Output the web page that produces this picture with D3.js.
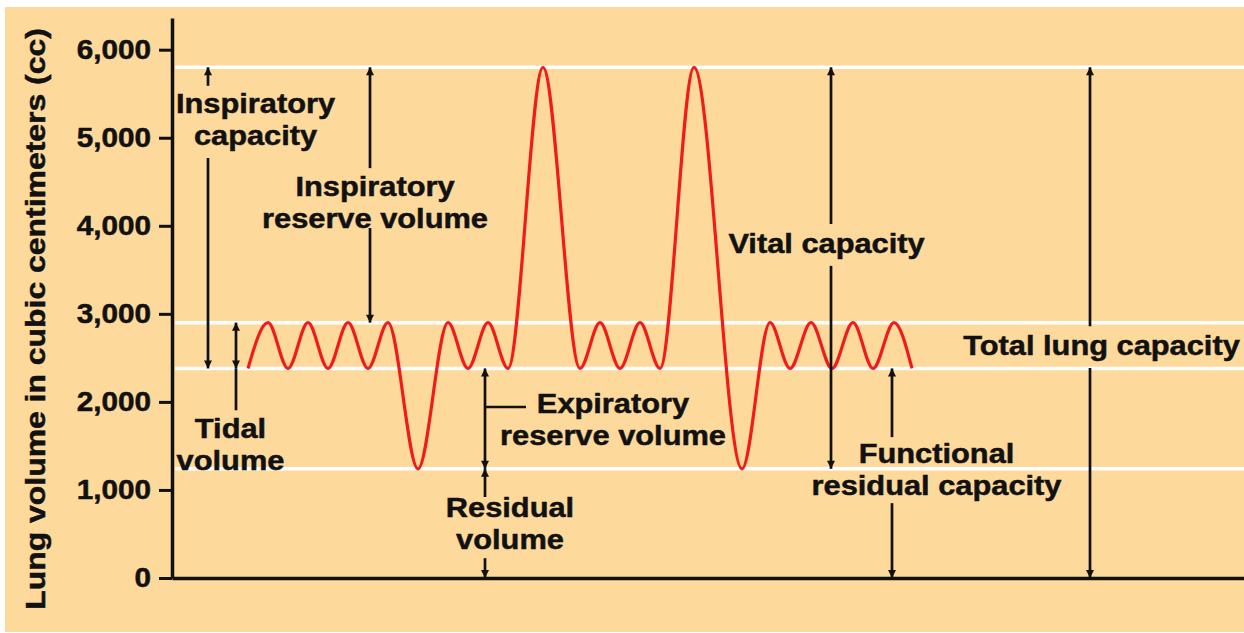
<!DOCTYPE html>
<html lang="en">
<head>
  <meta charset="utf-8">
  <title>Lung volumes</title>
  <script src="https://d3js.org/d3.v7.min.js"></script>
  <style>
    body { margin: 0; background: #fff; }
    text { font-family: "Liberation Sans", Arial, sans-serif; font-weight: bold; fill: #111; stroke: #111; stroke-width: 0.5px; }
  </style>
</head>
<body>
<script>
  // breathing trace: time (arbitrary units) and volume (cc) at each turning point
  var breathTime   = [7.6, 9.6, 11.6, 13.6, 15.6, 17.6, 19.6, 21.6, 24.6, 27.6, 29.6, 31.6, 33.6,
                      37.1, 40.8, 42.8, 44.8, 46.8, 48.8, 52.2, 57.0, 59.8, 61.8, 63.9, 66.0,
                      68.1, 70.1, 72.2, 74.0];
  var breathVolume = [2380, 2900, 2380, 2900, 2380, 2900, 2380, 2900, 1240, 2900, 2380, 2900, 2380,
                      5800, 2380, 2900, 2380, 2900, 2380, 5800, 1240, 2900, 2380, 2900, 2380,
                      2900, 2380, 2900, 2380];

  // reference levels (white lines)
  var levels = [5800, 2900, 2380, 1240];

  // y tick labels
  var yTicks = [0, 1000, 2000, 3000, 4000, 5000, 6000];

  // arrows: time position, segments [from, to, head at from, head at to]
  var arrows = [
    {t: 3.6,  segs: [[5800, 5590, true, false], [4770, 2380, false, true]]},   // inspiratory capacity
    {t: 6.4,  segs: [[2900, 2380, true, true], [2380, 1905, false, false]]},   // tidal volume
    {t: 19.8, segs: [[5800, 4655, true, false], [3975, 2900, false, true]]},   // IRV
    {t: 31.3, segs: [[2380, 1240, true, true], [1240, 920, true, false], [225, 0, false, true]]}, // ERV + RV
    {t: 65.9, segs: [[5800, 4020, true, false], [3545, 1240, false, true]]},   // vital capacity
    {t: 72.0, segs: [[2380, 1600, true, false], [850, 0, false, true]]},       // FRC
    {t: 91.8, segs: [[5800, 2860, true, false], [2385, 0, false, true]]}       // TLC
  ];
  var ervTick = {t0: 31.3, t1: 35.4, v: 1942};

  // labels: centre time, baseline volume of first line, lines
  var labels = [
    {t: 8.35,  v: 5281, lines: ["Inspiratory", "capacity"]},
    {t: 20.3,  v: 4338, lines: ["Inspiratory", "reserve volume"]},
    {t: 5.85,  v: 1590, lines: ["Tidal", "volume"]},
    {t: 44.1,  v: 1874, lines: ["Expiratory", "reserve volume"]},
    {t: 33.8,  v: 693,  lines: ["Residual", "volume"]},
    {t: 65.45, v: 3691, lines: ["Vital capacity"]},
    {t: 76.45, v: 1306, lines: ["Functional", "residual capacity"]},
    {t: 92.95, v: 2533, lines: ["Total lung capacity"]}
  ];

  var width = 1244, height = 633;
  var stretch = 1.1;

  var svg = d3.select("body").append("svg")
      .attr("width", width)
      .attr("height", height);

  svg.append("rect")
      .attr("x", 5).attr("y", 7)
      .attr("width", width - 5).attr("height", height - 8)
      .attr("fill", "#fdd99b");

  var defs = svg.append("defs");
  defs.append("marker")
      .attr("id", "head")
      .attr("viewBox", "0 0 10 10")
      .attr("refX", 10).attr("refY", 5)
      .attr("markerWidth", 12).attr("markerHeight", 8)
      .attr("markerUnits", "userSpaceOnUse")
      .attr("orient", "auto-start-reverse")
      .append("path")
      .attr("d", "M0,0 L10,5 L0,10 z")
      .attr("fill", "#111");

  var x = d3.scaleLinear().domain([0, 107.2]).range([172, 1244]);
  var y = d3.scaleLinear().domain([0, 6360]).range([578, 18]);

  // white level lines
  svg.selectAll("line.level")
     .data(levels)
     .enter()
       .append("line")
       .attr("class", "level")
       .attr("x1", x(0.3)).attr("x2", width)
       .attr("y1", function(d) { return y(d); })
       .attr("y2", function(d) { return y(d); })
       .attr("stroke", "#fff")
       .attr("stroke-width", 3.5);

  // breathing trace
  var trace = breathTime.map(function(t, i) { return [t, breathVolume[i]]; });
  var line = d3.line()
      .x(function(d) { return x(d[0]); })
      .y(function(d) { return y(d[1]); })
      .curve(d3.curveMonotoneX);
  svg.append("path")
     .datum(trace)
     .attr("d", line)
     .attr("fill", "none")
     .attr("stroke", "#f01c1c")
     .attr("stroke-width", 3.2);

  // arrows
  arrows.forEach(function(a) {
    a.segs.forEach(function(s) {
      svg.append("line")
         .attr("x1", x(a.t)).attr("x2", x(a.t))
         .attr("y1", y(s[0])).attr("y2", y(s[1]))
         .attr("stroke", "#111")
         .attr("stroke-width", 2.7)
         .attr("marker-start", s[2] ? "url(#head)" : null)
         .attr("marker-end", s[3] ? "url(#head)" : null);
    });
  });
  svg.append("line")
     .attr("x1", x(ervTick.t0)).attr("x2", x(ervTick.t1))
     .attr("y1", y(ervTick.v)).attr("y2", y(ervTick.v))
     .attr("stroke", "#111").attr("stroke-width", 2.7);

  // labels
  labels.forEach(function(l) {
    l.lines.forEach(function(txt, i) {
      svg.append("text")
         .attr("transform", "translate(" + x(l.t) + "," + (y(l.v) + i * 32) + ") scale(" + stretch + ",1)")
         .attr("text-anchor", "middle")
         .attr("font-size", "28px")
         .text(txt);
    });
  });

  // axes
  var yAxis = d3.axisLeft(y)
      .tickValues(yTicks)
      .tickFormat(d3.format(","))
      .tickSize(13)
      .tickSizeOuter(0)
      .tickPadding(8);
  var gy = svg.append("g")
      .attr("transform", "translate(172,0)")
      .call(yAxis);
  gy.select(".domain").attr("stroke", "#111").attr("stroke-width", 3.5);
  gy.selectAll(".tick line").attr("stroke", "#111").attr("stroke-width", 3);
  gy.selectAll(".tick text")
    .attr("font-size", "27px")
    .attr("font-family", null)
    .attr("fill", "#111")
    .attr("x", -21 / stretch)
    .attr("transform", "scale(" + stretch + ",1)");

  var xAxis = d3.axisBottom(x).tickValues([]).tickSizeOuter(0);
  var gx = svg.append("g")
      .attr("transform", "translate(0,578)")
      .call(xAxis);
  gx.select(".domain").attr("stroke", "#111").attr("stroke-width", 3.5);

  // y title
  svg.append("text")
     .attr("transform", "translate(45,319) rotate(-90) scale(1.14,1)")
     .attr("text-anchor", "middle")
     .attr("font-size", "28px")
     .text("Lung volume in cubic centimeters (cc)");
</script>
</body>
</html>
